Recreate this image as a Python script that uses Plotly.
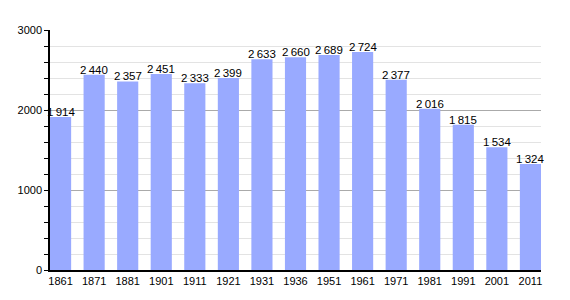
import plotly.graph_objects as go

years = ["1861", "1871", "1881", "1901", "1911", "1921", "1931", "1936", "1951", "1961", "1971", "1981", "1991", "2001", "2011"]
population = [1914, 2440, 2357, 2451, 2333, 2399, 2633, 2660, 2689, 2724, 2377, 2016, 1815, 1534, 1324]
labels = [f"{v:,}".replace(",", "\u2009") for v in population]

bw = 0.63
fig = go.Figure(go.Bar(
    x=years, y=population,
    marker=dict(color="#99AAFF", line=dict(width=0)),
    width=bw, hoverinfo="x+y",
))
for i, (v, lab) in enumerate(zip(population, labels)):
    fig.add_annotation(x=i, y=v, text=lab, showarrow=False, xref="x", yref="y",
                       yanchor="bottom", xanchor="center", yshift=-3,
                       font=dict(family="Liberation Sans, Arial", size=11.5, color="black"))
fig.update_layout(
    width=570, height=300,
    margin=dict(l=50, r=29, t=30, b=30),
    plot_bgcolor="white", paper_bgcolor="white",
    font=dict(family="Liberation Sans, Arial", size=11, color="black"),
    showlegend=False,
)
fig.update_xaxes(type="category", range=[-bw / 2, len(years) - 1 + bw / 2], showline=True, linecolor="black", linewidth=1.5,
                 ticks="", tickfont=dict(size=11))
fig.update_yaxes(range=[0, 3000], dtick=1000, showline=True, linecolor="black", linewidth=1.5,
                 ticks="outside", ticklen=4, tickcolor="black",
                 gridcolor="#AAAAAA", gridwidth=1, zeroline=False,
                 minor=dict(dtick=200, showgrid=True, gridcolor="#E3E3E3", ticks="outside", ticklen=4, tickcolor="black"),
                 tickfont=dict(size=11))
fig.write_html("out.html")
